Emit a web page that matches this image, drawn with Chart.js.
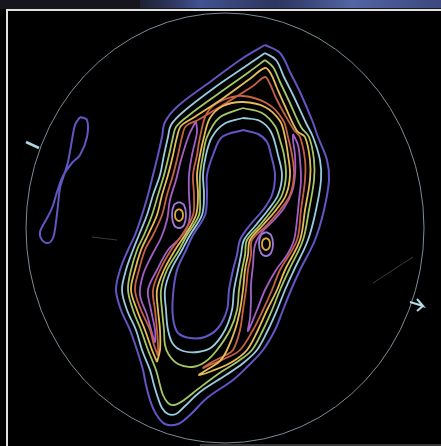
<!DOCTYPE html>
<html>
<head>
<meta charset="utf-8">
<script src="https://cdn.jsdelivr.net/npm/chart.js@4"></script>
<style>
  html, body { margin: 0; padding: 0; background: #000; }
  #wrap { width: 441px; height: 446px; }
</style>
</head>
<body>
<div id="wrap"><canvas id="myChart" width="441" height="446"></canvas></div>
<script>

// contour lines as [x, y] (image units, y down)
const outerBlue = [[265,45],[280,53],[290,72],[300,92],[312,120],[318,137],[327,160],[329,180],[324,210],[315,240],[300,270],[291,290],[283,310],[275,330],[263,350],[248,366],[233,380],[207,398],[190,415],[178,424],[165,424],[156,414],[150,400],[146,385],[143,370],[137,350],[130,330],[121,310],[116,290],[120,270],[128,250],[135,235],[142,215],[148,195],[153,175],[158,155],[162,137],[165,122],[178,106],[210,82],[243,58],[265,45]]
const outerCyan = [[265,53],[276,60],[284,77],[294,97],[306,123],[313,137],[320,160],[321,180],[316,210],[308,240],[294,270],[285,290],[277,310],[268,330],[257,350],[242,364],[226,375],[200,392],[184,407],[176,414],[168,414],[162,408],[158,398],[154,385],[150,370],[142,350],[136,330],[127,310],[122,290],[126,270],[133,250],[139,235],[147,215],[153,195],[160,175],[164,155],[168,137],[171,125],[183,112],[214,88],[246,66],[265,53]]
const outerGreen = [[265,60],[273,67],[280,82],[289,101],[301,127],[309,137],[314,160],[314,180],[309,210],[303,240],[289,270],[280,290],[272,310],[263,330],[252,350],[237,362],[221,372],[198,389],[184,400],[174,405],[168,403],[163,395],[160,385],[156,370],[148,350],[141,330],[133,310],[128,290],[131,270],[137,250],[144,235],[152,215],[158,195],[164,175],[169,155],[173,137],[176,127],[188,116],[218,94],[249,72],[265,60]]
const ridgeYellow = [[157,362],[152,350],[145,330],[137,310],[131,290],[135,270],[141,250],[148,235],[157,215],[162,195],[168,175],[173,155],[177,137],[181,126],[193,118],[222,99],[251,78],[265,68],[271,74],[277,88],[285,106],[297,131],[305,137],[310,160],[310,180],[305,210],[300,240],[285,270],[277,290],[267,310],[258,330],[247,350],[232,362],[212,371],[199,375],[208,369],[220,361],[227,350],[235,330],[240,310],[243,290],[245,270],[248,255],[250,240],[263,225],[276,210],[286,195],[290,175],[288,155],[285,137],[280,121],[265,107],[243,102],[223,106],[210,118],[204,137],[200,155],[197,175],[198,195],[196,215],[185,235],[175,250],[164,270],[157,290],[158,310],[160,330],[160,350],[157,362]]
const ridgeRed = [[158,356],[154,345],[150,330],[141,310],[135,290],[139,270],[145,250],[153,235],[162,215],[167,195],[173,175],[178,155],[182,137],[186,126],[198,120],[226,103],[253,86],[265,77],[270,84],[276,98],[285,115],[294,130],[300,137],[305,160],[305,180],[301,210],[297,240],[280,270],[272,290],[263,310],[253,330],[240,350],[226,358],[210,365],[203,368],[212,362],[224,356],[233,350],[240,330],[243,310],[246,290],[248,270],[251,255],[252,240],[267,225],[280,210],[290,195],[294,175],[292,155],[288,137],[283,120],[268,104],[243,96],[221,101],[207,113],[200,137],[197,155],[193,175],[194,195],[193,215],[182,235],[171,250],[160,270],[153,290],[155,310],[157,330],[158,345],[158,356]]
const innerGreen = [[243,108],[262,113],[275,126],[280,140],[284,155],[286,175],[282,195],[272,210],[260,225],[247,240],[245,255],[242,270],[239,290],[237,310],[230,330],[217,350],[205,362],[192,367],[178,364],[169,355],[165,345],[164,330],[162,310],[161,290],[167,270],[179,250],[187,235],[199,215],[200,195],[200,175],[203,155],[207,137],[219,118],[243,108]]
const innerCyan = [[243,118],[260,121],[271,132],[278,155],[282,175],[278,195],[268,210],[256,225],[244,240],[241,255],[238,270],[234,290],[232,310],[225,330],[212,347],[198,352],[183,351],[173,344],[168,330],[166,310],[165,290],[171,270],[182,250],[190,235],[202,215],[204,195],[203,175],[206,155],[212,137],[224,124],[243,118]]
const innerBlue = [[243,130],[258,134],[267,142],[271,155],[275,175],[272,195],[263,210],[250,225],[240,240],[237,255],[233,270],[229,290],[227,310],[218,328],[205,337],[190,338],[178,333],[173,318],[173,295],[177,270],[186,250],[193,235],[205,215],[207,195],[207,175],[213,155],[222,137],[243,130]]
const leftTongue = [[196,121],[197,132],[192,155],[189,175],[189,195],[190,215],[187,228],[178,240],[168,250],[157,270],[148,290],[151,310],[155,330],[155,342],[152,333],[147,315],[140,295],[143,275],[152,255],[161,238],[167,220],[170,200],[176,180],[181,160],[189,135],[196,121]]
const rightTongue = [[293,134],[298,145],[300,160],[301,180],[299,200],[297,220],[294,240],[287,255],[276,270],[265,290],[257,310],[248,331],[250,318],[251,300],[251,285],[253,265],[255,245],[262,232],[274,220],[284,208],[292,192],[295,175],[295,155],[293,140],[293,134]]
const leftEyeOuter = [[179,202],[184,205],[186,215],[184,225],[179,228],[174,225],[172,215],[174,205],[179,202]]
const leftEyeInner = [[179,209],[182,211],[183,215],[182,219],[179,221],[176,219],[175,215],[176,211],[179,209]]
const rightEyeOuter = [[266,232],[271,235],[273,244],[271,253],[266,256],[261,253],[259,244],[261,235],[266,232]]
const rightEyeInner = [[266,238],[269,240],[270,244],[269,248],[266,250],[263,248],[262,244],[263,240],[266,238]]
const sideLoop = [[80,117],[87,120],[87,137],[80,155],[72,163],[63,176],[57,192],[52,208],[46,220],[40,232],[42,240],[48,243],[53,238],[56,222],[58,205],[60,188],[64,175],[68,162],[72,140],[75,125],[80,117]]

// little marks on the rim
const leftTick = [[26,142],[39,148]]
const rightArrow = [[410,302],[423,306],[417,299],[423,306],[417,311]]
const faintLineA = [[92,237],[117,240]]
const faintLineB = [[373,283],[413,257]]

// field circle: centre and radii
const rimCentre = [225, 228]
const rimRadius = [199, 215]

const BLUE = 'rgb(98,86,196)'
const CYAN = 'rgb(150,205,225)'
const GREEN = 'rgb(165,200,100)'
const YELLOW = 'rgb(228,188,88)'
const RED = 'rgb(200,98,68)'
const MAGENTA = 'rgb(165,95,200)'

function pts(arr) {
  return arr.map(p => ({ x: p[0], y: p[1] }))
}

function line(arr, color, width) {
  return {
    data: pts(arr),
    showLine: true,
    borderColor: color,
    borderWidth: width || 1.8,
    pointRadius: 0,
    fill: false,
    tension: 0.35
  }
}

const backdrop = {
  id: 'backdrop',
  beforeDatasetsDraw(chart) {
    const ctx = chart.ctx
    const sx = chart.scales.x, sy = chart.scales.y
    const X = v => sx.getPixelForValue(v), Y = v => sy.getPixelForValue(v)
    ctx.save()
    // top strip of the scan
    ctx.fillStyle = 'rgb(22,22,28)'
    ctx.fillRect(X(0), Y(0), X(441) - X(0), Y(9) - Y(0))
    const g = ctx.createLinearGradient(X(140), 0, X(441), 0)
    g.addColorStop(0, 'rgba(50,60,110,0.3)')
    g.addColorStop(0.2, 'rgba(70,90,160,0.9)')
    g.addColorStop(0.45, 'rgba(60,75,140,0.6)')
    g.addColorStop(0.7, 'rgba(90,110,180,0.9)')
    g.addColorStop(1, 'rgba(70,85,150,0.8)')
    ctx.fillStyle = g
    ctx.fillRect(X(140), Y(0), X(441) - X(140), Y(8) - Y(0))
    // white frame
    ctx.strokeStyle = 'rgb(225,225,225)'
    ctx.lineWidth = 2
    ctx.beginPath()
    ctx.moveTo(X(7), Y(446))
    ctx.lineTo(X(7), Y(10))
    ctx.lineTo(X(441), Y(10))
    ctx.stroke()
    ctx.strokeStyle = 'rgb(110,110,110)'
    ctx.lineWidth = 1
    ctx.beginPath()
    ctx.moveTo(X(200), Y(445))
    ctx.lineTo(X(441), Y(445))
    ctx.stroke()
    // rim circle
    ctx.strokeStyle = 'rgb(125,140,150)'
    ctx.lineWidth = 1
    ctx.beginPath()
    ctx.ellipse(X(rimCentre[0]), Y(rimCentre[1]),
      X(rimCentre[0] + rimRadius[0]) - X(rimCentre[0]),
      Y(rimCentre[1] + rimRadius[1]) - Y(rimCentre[1]), 0, 0, Math.PI * 2)
    ctx.stroke()
    ctx.restore()
  }
}

new Chart(document.getElementById('myChart'), {
  type: 'scatter',
  data: {
    datasets: [
      line(faintLineA, 'rgb(60,60,60)', 1),
      line(faintLineB, 'rgb(60,60,60)', 1),
      line(outerBlue, BLUE, 2),
      line(outerCyan, CYAN),
      line(outerGreen, GREEN),
      line(ridgeYellow, YELLOW),
      line(ridgeRed, RED),
      line(innerGreen, GREEN),
      line(innerCyan, CYAN),
      line(innerBlue, BLUE, 2),
      line(leftTongue, MAGENTA),
      line(rightTongue, MAGENTA),
      line(leftEyeOuter, 'rgb(160,120,220)'),
      line(leftEyeInner, 'rgb(225,170,60)'),
      line(rightEyeOuter, 'rgb(160,120,220)'),
      line(rightEyeInner, 'rgb(225,170,60)'),
      line(sideLoop, BLUE, 2),
      Object.assign(line(leftTick, 'rgb(170,215,225)', 2.5), { tension: 0 }),
      Object.assign(line(rightArrow, 'rgb(180,220,230)', 2), { tension: 0 })
    ]
  },
  options: {
    responsive: false,
    animation: false,
    layout: { padding: 0 },
    plugins: { legend: { display: false }, tooltip: { enabled: false } },
    scales: {
      x: { type: 'linear', min: 0, max: 441, display: false },
      y: { type: 'linear', min: 0, max: 446, reverse: true, display: false }
    }
  },
  plugins: [backdrop]
})
</script>
</body>
</html>
